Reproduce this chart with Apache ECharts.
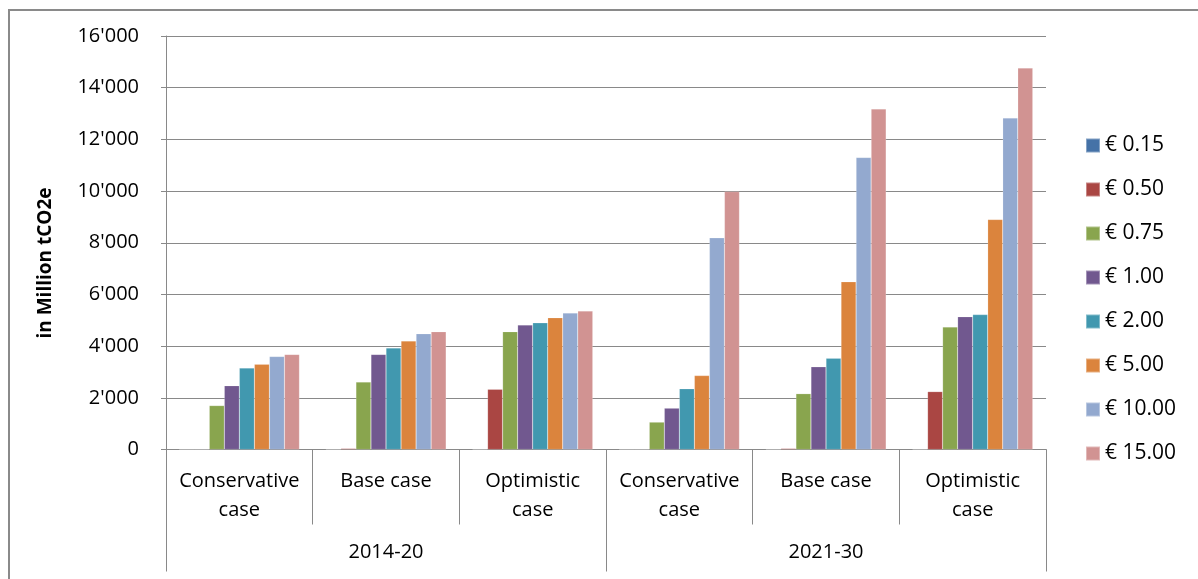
<!DOCTYPE html>
<html>
<head>
<meta charset="utf-8">
<script src="https://cdn.jsdelivr.net/npm/echarts@6/dist/echarts.min.js"></script>
<style>
  html, body { margin: 0; padding: 0; background: #ffffff; }
  #chart { width: 1198px; height: 579px; }
</style>
</head>
<body>
<div id="chart"></div>
<script>
// Scenario categories (inner level) and periods (outer level)
const cases = ['Conservative\ncase', 'Base case', 'Optimistic\ncase',
               'Conservative\ncase', 'Base case', 'Optimistic\ncase'];
const periods = ['2014-20', '2021-30'];

// Carbon price levels
const priceLabels = ['€ 0.15', '€ 0.50', '€ 0.75', '€ 1.00', '€ 2.00', '€ 5.00', '€ 10.00', '€ 15.00'];
const priceColors = ['#4572A7', '#AA4643', '#89A54E', '#71588F', '#4198AF', '#DB843D', '#93A9CF', '#D19392'];

// Abatement potential, in million tCO2e, per price level (one value per case)
const p015  = [0, 0, 0, 0, 0, 0];
const p050  = [0, 40, 2330, 0, 40, 2240];
const p075  = [1700, 2610, 4560, 1060, 2160, 4740];
const p100  = [2470, 3680, 4820, 1600, 3200, 5140];
const p200  = [3150, 3930, 4900, 2350, 3530, 5220];
const p500  = [3300, 4200, 5100, 2860, 6490, 8900];
const p1000 = [3600, 4480, 5280, 8190, 11300, 12830];
const p1500 = [3680, 4560, 5360, 9980, 13180, 14760];

const seriesValues = [p015, p050, p075, p100, p200, p500, p1000, p1500];

const yMin = 0, yMax = 16000, yStep = 2000;

const FONT = '"Open Sans", "Liberation Sans", sans-serif';
const GRID_GRAY = '#898989';

function fmtThousands(v) {
  return String(v).replace(/\B(?=(\d{3})+(?!\d))/g, "'");
}

const chart = echarts.init(document.getElementById('chart'), null, { renderer: 'canvas' });

chart.setOption({
  animation: false,
  backgroundColor: '#ffffff',
  textStyle: { fontFamily: FONT },
  grid: { left: 166, right: 152, top: 36, bottom: 129.5, containLabel: false },
  legend: {
    orient: 'vertical',
    left: 1085,
    top: 135,
    padding: 0,
    itemWidth: 14,
    itemHeight: 14,
    itemGap: 23,
    icon: 'rect',
    textStyle: { fontFamily: FONT, fontSize: 21, color: '#000', lineHeight: 20 },
    data: priceLabels
  },
  xAxis: [
    {
      type: 'category',
      position: 'bottom',
      data: cases,
      axisLine: { show: true, lineStyle: { color: GRID_GRAY, width: 1 } },
      axisTick: { show: true, length: 75, interval: 0, lineStyle: { color: GRID_GRAY } },
      axisLabel: { interval: 0, margin: 17, fontFamily: FONT, fontSize: 20, lineHeight: 29, color: '#000' }
    },
    {
      type: 'category',
      position: 'bottom',
      data: periods,
      axisLine: { show: false },
      axisTick: { show: true, length: 122, interval: 0, lineStyle: { color: GRID_GRAY } },
      axisLabel: { interval: 0, margin: 91, fontFamily: FONT, fontSize: 20, lineHeight: 24, color: '#000' }
    }
  ],
  yAxis: {
    type: 'value',
    min: yMin,
    max: yMax,
    interval: yStep,
    axisLine: { show: true, lineStyle: { color: GRID_GRAY, width: 1 } },
    axisTick: { show: true, length: 5, lineStyle: { color: GRID_GRAY } },
    splitLine: { show: true, lineStyle: { color: GRID_GRAY, width: 1 } },
    axisLabel: { margin: 27, fontFamily: FONT, fontSize: 20, color: '#000', formatter: fmtThousands }
  },
  series: seriesValues.map((vals, i) => ({
    name: priceLabels[i],
    type: 'bar',
    xAxisIndex: 0,
    data: vals,
    barGap: '0%',
    barCategoryGap: '18%',
    itemStyle: { color: priceColors[i], borderColor: 'rgba(255,255,255,0.35)', borderWidth: 0.5 }
  })),
  graphic: [
    {
      type: 'rect',
      silent: true,
      shape: { x: 9, y: 10, width: 1200, height: 600 },
      style: { fill: 'none', stroke: '#8a8a8a', lineWidth: 2 }
    },
    {
      type: 'text',
      silent: true,
      x: 46,
      y: 263,
      rotation: Math.PI / 2,
      style: {
        text: 'in Million tCO2e',
        fontFamily: FONT,
        fontSize: 19,
        fontWeight: 'bold',
        fill: '#000',
        align: 'center',
        verticalAlign: 'middle'
      }
    }
  ]
});
</script>
</body>
</html>
